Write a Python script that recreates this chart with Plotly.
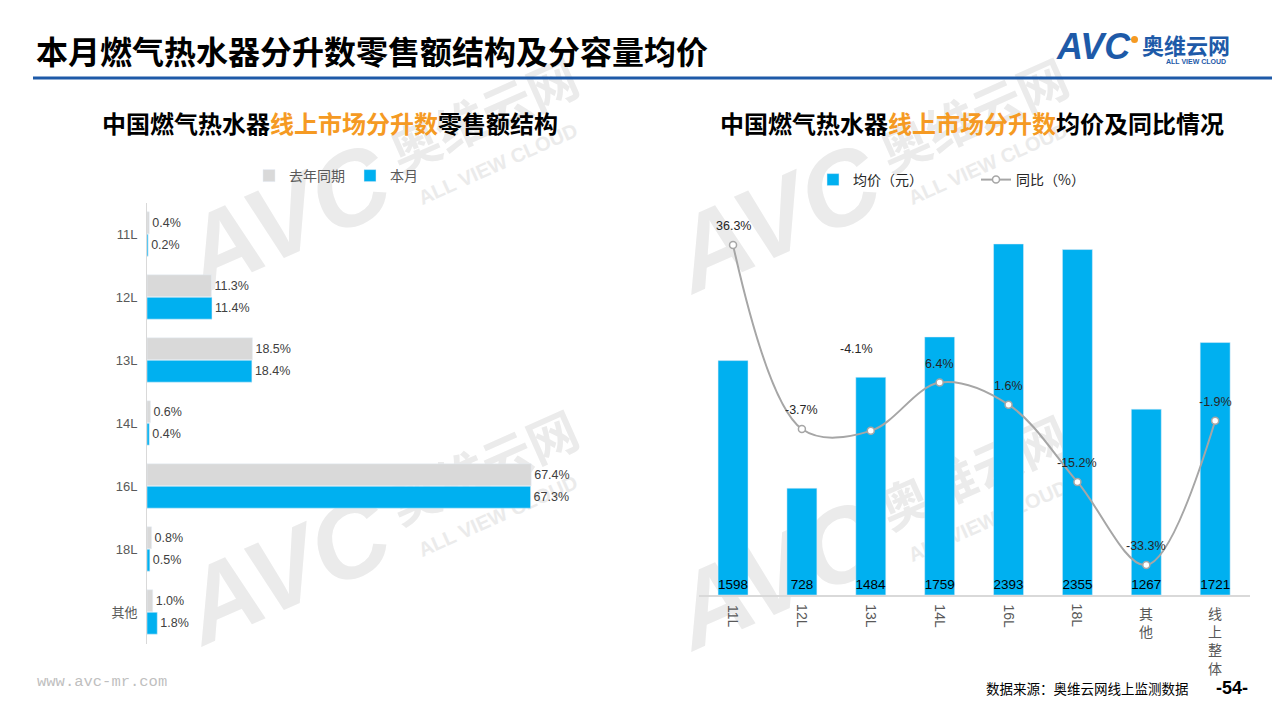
import plotly.graph_objects as go

# ---------------- data ----------------
share_cats = ["11L", "12L", "13L", "14L", "16L", "18L", "其他"]
share_last_year = [0.4, 11.3, 18.5, 0.6, 67.4, 0.8, 1.0]
share_this_month = [0.2, 11.4, 18.4, 0.4, 67.3, 0.5, 1.8]

price_cats = ["11L", "12L", "13L", "14L", "16L", "18L", "其他", "线上整体"]
avg_price = [1598, 728, 1484, 1759, 2393, 2355, 1267, 1721]
yoy_pct = [36.3, -3.7, -4.1, 6.4, 1.6, -15.2, -33.3, -1.9]

# label offsets (pixels) for yoy labels that were moved in the original
yoy_label_shift = {"13L": (-14, 82)}

# ---------------- styles ----------------
CJK = "Noto Sans CJK SC"
SANS = "Liberation Sans, Noto Sans CJK SC"
BLUE = "#00B0F0"
GRAY = "#D9D9D9"
LINE_GRAY = "#A6A6A6"
ORANGE = "#F59A23"
TXT = "#404040"
WM = "#EBEBEB"
W, H = 1280, 720


def px_x(v):
    return v / W


def px_y(v):
    return 1 - v / H


fig = go.Figure()

# ---- left chart: share structure ----
fig.add_trace(go.Bar(
    y=share_cats, x=share_last_year, orientation="h", name="去年同期",
    marker_color=GRAY, xaxis="x", yaxis="y", legend="legend",
    text=[f"{v:.1f}%" for v in share_last_year], textposition="outside",
    textfont=dict(size=12.5, color=TXT, family=SANS), cliponaxis=False,
))
fig.add_trace(go.Bar(
    y=share_cats, x=share_this_month, orientation="h", name="本月",
    marker_color=BLUE, xaxis="x", yaxis="y", legend="legend",
    text=[f"{v:.1f}%" for v in share_this_month], textposition="outside",
    textfont=dict(size=12.5, color=TXT, family=SANS), cliponaxis=False,
))

# ---- right chart: avg price & yoy ----
fig.add_trace(go.Bar(
    x=price_cats, y=avg_price, name="均价（元）", marker_color=BLUE,
    xaxis="x2", yaxis="y2", legend="legend2", width=0.435,
    text=[str(v) for v in avg_price], textposition="inside",
    insidetextanchor="start", constraintext="none", textangle=0,
    textfont=dict(size=13.5, color="#000000", family=SANS),
))
fig.add_trace(go.Scatter(
    x=price_cats, y=yoy_pct, name="同比（%）", mode="lines+markers",
    line=dict(color=LINE_GRAY, width=2, shape="spline", smoothing=1.0),
    marker=dict(symbol="circle", size=7, color="white",
                line=dict(color=LINE_GRAY, width=1.5)),
    xaxis="x2", yaxis="y3", legend="legend2", cliponaxis=False,
))

annotations = []
for c, v in zip(price_cats, yoy_pct):
    dx, dy = yoy_label_shift.get(c, (0, 19))
    annotations.append(dict(
        x=c, y=v, xref="x2", yref="y3", text=f"{v:.1f}%", showarrow=False,
        xshift=dx, yshift=dy, font=dict(size=12.5, color="#262626", family=SANS),
    ))

# x tick labels of right chart (rotated latin, stacked CJK)
for c in price_cats:
    if c.isascii():
        annotations.append(dict(
            x=c, y=0, xref="x2", yref="y2 domain", text=c, textangle=90,
            showarrow=False, yanchor="middle", yshift=-21,
            font=dict(size=14, color="#595959", family=SANS)))
    else:
        annotations.append(dict(
            x=c, y=0, xref="x2", yref="y2 domain", text="<br>".join(c),
            showarrow=False, yanchor="top", yshift=-6,
            font=dict(size=14, color="#595959", family=CJK)))

# titles & texts
annotations += [
    dict(x=px_x(34), y=px_y(50), xref="paper", yref="paper", xanchor="left",
         yanchor="middle", showarrow=False,
         text="<b>本月燃气热水器分升数零售额结构及分容量均价</b>",
         font=dict(size=32, color="#000000", family=CJK)),
    dict(x=px_x(330), y=px_y(122), xref="paper", yref="paper", xanchor="center",
         yanchor="middle", showarrow=False,
         text=f"<b>中国燃气热水器<span style='color:{ORANGE}'>线上市场分升数</span>零售额结构</b>",
         font=dict(size=24, color="#000000", family=CJK)),
    dict(x=px_x(972), y=px_y(122), xref="paper", yref="paper", xanchor="center",
         yanchor="middle", showarrow=False,
         text=f"<b>中国燃气热水器<span style='color:{ORANGE}'>线上市场分升数</span>均价及同比情况</b>",
         font=dict(size=24, color="#000000", family=CJK)),
    dict(x=px_x(35), y=px_y(682), xref="paper", yref="paper", xanchor="left",
         yanchor="middle", showarrow=False, text="www.avc-mr.com",
         font=dict(size=15.5, color="#BFBFBF", family="Liberation Mono")),
    dict(x=px_x(1191), y=px_y(688), xref="paper", yref="paper", xanchor="right",
         yanchor="middle", showarrow=False, text="数据来源：奥维云网线上监测数据",
         font=dict(size=13.5, color="#000000", family=CJK)),
    dict(x=px_x(1232), y=px_y(688), xref="paper", yref="paper", xanchor="center",
         yanchor="middle", showarrow=False, text="<b>-54-</b>",
         font=dict(size=18, color="#000000", family=SANS)),
    # logo
    dict(x=px_x(1054), y=px_y(47), xref="paper", yref="paper", xanchor="left",
         yanchor="middle", showarrow=False, text="<b><i>AVC</i></b>",
         font=dict(size=36, color="#1E5AA8", family="Liberation Sans")),
    dict(x=px_x(1140), y=px_y(44), xref="paper", yref="paper", xanchor="left",
         yanchor="middle", showarrow=False, text="<b>奥维云网</b>",
         font=dict(size=22, color="#1E5AA8", family=CJK)),
    dict(x=px_x(1196), y=px_y(61), xref="paper", yref="paper", xanchor="center",
         yanchor="middle", showarrow=False, text="<b>ALL VIEW CLOUD</b>",
         font=dict(size=7, color="#1E5AA8", family="Liberation Sans")),
]

shapes = [
    dict(type="line", xref="paper", yref="paper", x0=px_x(33), x1=px_x(1272),
         y0=px_y(78), y1=px_y(78), line=dict(color="#1E5AA8", width=3)),
    dict(type="circle", xref="paper", yref="paper", x0=px_x(1131), x1=px_x(1138),
         y0=px_y(43), y1=px_y(36), fillcolor="#F59A23", line=dict(width=0)),
]

# faint watermarks behind the charts (shape labels on the lower layer)
ANG = 24
wm_parts = [  # (dx, dy, text, size, family)
    (-118, 30, "AVC", 105, "Liberation Sans"),
    (86, -58, "奥维云网", 50, CJK),
    (97, -16, "ALL VIEW CLOUD", 20, "Liberation Sans"),
]
for (cx, cy) in [(400, 178), (400, 530), (890, 178), (890, 535)]:
    for (dx, dy, t, s, fam) in wm_parts:
        px_ = cx + dx
        py_ = cy + dy
        shapes.append(dict(
            type="rect", xref="paper", yref="paper", layer="below",
            x0=px_x(px_ - 2), x1=px_x(px_ + 2), y0=px_y(py_ + 2), y1=px_y(py_ - 2),
            line=dict(width=0), fillcolor="rgba(0,0,0,0)",
            label=dict(text=t, textangle=-ANG, textposition="middle center",
                       font=dict(size=s, color=WM, family=fam, weight="bold",
                                 style="italic" if t == "AVC" else "normal"))))

fig.update_layout(
    width=W, height=H, autosize=False,
    margin=dict(l=0, r=0, t=0, b=0),
    paper_bgcolor="white", plot_bgcolor="rgba(0,0,0,0)",
    font=dict(family=SANS, color=TXT),
    barmode="group", bargap=0.286, bargroupgap=0.03,
    showlegend=True,
    xaxis=dict(domain=[px_x(147), px_x(603)], range=[0, 80], visible=False,
               fixedrange=True),
    yaxis=dict(domain=[px_y(643.5), px_y(202.5)], autorange="reversed",
               showline=True, linecolor=GRAY, linewidth=1, ticks="",
               showgrid=False, tickfont=dict(size=13, color="#595959", family=SANS),
               ticklabelstandoff=6),
    xaxis2=dict(domain=[px_x(698.6), px_x(1249.6)], anchor="y2",
                showline=True, linecolor=GRAY, linewidth=1.5, ticks="",
                showticklabels=False, showgrid=False),
    yaxis2=dict(domain=[px_y(595), px_y(185)], anchor="x2", range=[0, 2795],
                visible=False, showgrid=False),
    yaxis3=dict(overlaying="y2", anchor="x2", side="right", range=[-39.8, 49.37],
                visible=False, showgrid=False),
    legend=dict(orientation="h", x=px_x(336), y=px_y(176), xanchor="center",
                yanchor="middle", font=dict(size=14, color="#595959", family=CJK),
                itemwidth=30, bgcolor="rgba(0,0,0,0)"),
    legend2=dict(orientation="h", x=px_x(976), y=px_y(180), xanchor="center",
                 yanchor="middle", font=dict(size=14, color="#262626", family=CJK),
                 itemwidth=30, entrywidth=118, entrywidthmode="pixels",
                 bgcolor="rgba(0,0,0,0)"),
    annotations=annotations,
    shapes=shapes,
)

fig.write_html("out.html", config={"displayModeBar": False},
               post_script="document.body.style.margin='0';")
